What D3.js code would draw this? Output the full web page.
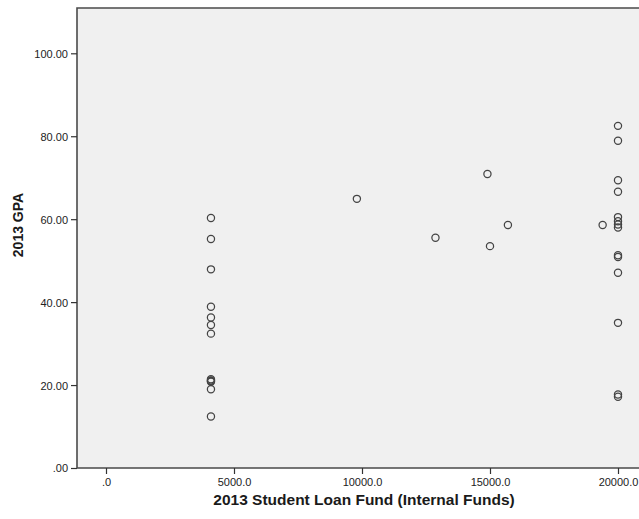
<!DOCTYPE html>
<html>
<head>
<meta charset="utf-8">
<script src="https://cdn.jsdelivr.net/npm/d3@7"></script>
<style>
  html, body { margin: 0; padding: 0; background: #ffffff; }
  svg { display: block; }
  text { font-family: "Liberation Sans", Arial, sans-serif; }
</style>
</head>
<body>
<svg id="chart" width="639" height="519"></svg>
<script>
// Student loan amount (x) and GPA (y) for each student
const loanAmounts = [
  4100, 4100, 4100, 4100, 4100, 4100, 4100, 4100, 4100, 4100, 4100, 4100, 4100,
  9800, 12870, 14900, 15000, 15700, 19400,
  20000, 20000, 20000, 20000, 20000, 20000, 20000, 20000,
  20000, 20000, 20000, 20000, 20000, 20000
];
const gpaValues = [
  60.3, 55.2, 47.9, 38.9, 36.3, 34.5, 32.4, 21.4, 21.1, 20.8, 19.0, 12.4, 21.0,
  64.9, 55.5, 70.9, 53.5, 58.6, 58.6,
  82.5, 78.9, 69.4, 66.6, 60.5, 59.5, 58.7, 58.0,
  51.3, 50.9, 47.1, 35.0, 17.7, 17.2
];
const xTicks = [0, 5000, 10000, 15000, 20000];
const yTicks = [0, 20, 40, 60, 80, 100];
const xTitle = "2013 Student Loan Fund (Internal Funds)";
const yTitle = "2013 GPA";

const svg = d3.select("#chart");
const plot = { left: 77, top: 8, right: 660, bottom: 468 };

const x = d3.scaleLinear().domain([0, 20000]).range([106, 618]);
x.domain([x.invert(plot.left), x.invert(plot.right)]).range([plot.left, plot.right]);
const y = d3.scaleLinear().domain([0, 100]).range([468, 53.3]);
y.domain([0, y.invert(plot.top)]).range([plot.bottom, plot.top]);

// plot background
svg.append("rect")
  .attr("x", plot.left).attr("y", plot.top)
  .attr("width", plot.right - plot.left).attr("height", plot.bottom - plot.top)
  .attr("fill", "#f0f0f0");

// frame
svg.append("path")
  .attr("d", `M${plot.right},${plot.top}H${plot.left}V${plot.bottom}H${plot.right}`)
  .attr("fill", "none").attr("stroke", "#4a4a4a").attr("stroke-width", 1.6);

const fmtX = v => v === 0 ? ".0" : d3.format(".1f")(v);
const fmtY = v => v === 0 ? ".00" : d3.format(".2f")(v);

const xAxis = svg.append("g")
  .attr("transform", `translate(0,${plot.bottom})`)
  .call(d3.axisBottom(x).tickValues(xTicks).tickFormat(fmtX).tickSize(6).tickPadding(4));
const yAxis = svg.append("g")
  .attr("transform", `translate(${plot.left},0)`)
  .call(d3.axisLeft(y).tickValues(yTicks).tickFormat(fmtY).tickSize(6).tickPadding(3));

[xAxis, yAxis].forEach(g => {
  g.select(".domain").remove();
  g.selectAll(".tick line").attr("stroke", "#333").attr("stroke-width", 1.2);
  g.selectAll(".tick text")
    .attr("fill", "#222")
    .style("font-family", "'Liberation Sans', Arial, sans-serif")
    .style("font-size", "11px");
});
yAxis.selectAll(".tick text").attr("dy", "0.36em");

// points
svg.append("g")
  .selectAll("circle")
  .data(loanAmounts.map((v, i) => [v, gpaValues[i]]))
  .join("circle")
  .attr("cx", d => x(d[0]))
  .attr("cy", d => y(d[1]))
  .attr("r", 3.6)
  .attr("fill", "none")
  .attr("stroke", "#444")
  .attr("stroke-width", 1.25);

// axis titles
svg.append("text")
  .attr("x", 364).attr("y", 505)
  .attr("text-anchor", "middle")
  .attr("font-weight", "bold")
  .attr("font-size", "15.5px")
  .attr("fill", "#1a1a1a")
  .text(xTitle);

svg.append("text")
  .attr("transform", "translate(23,225) rotate(-90)")
  .attr("text-anchor", "middle")
  .attr("font-weight", "bold")
  .attr("font-size", "14px")
  .attr("fill", "#1a1a1a")
  .text(yTitle);
</script>
</body>
</html>
